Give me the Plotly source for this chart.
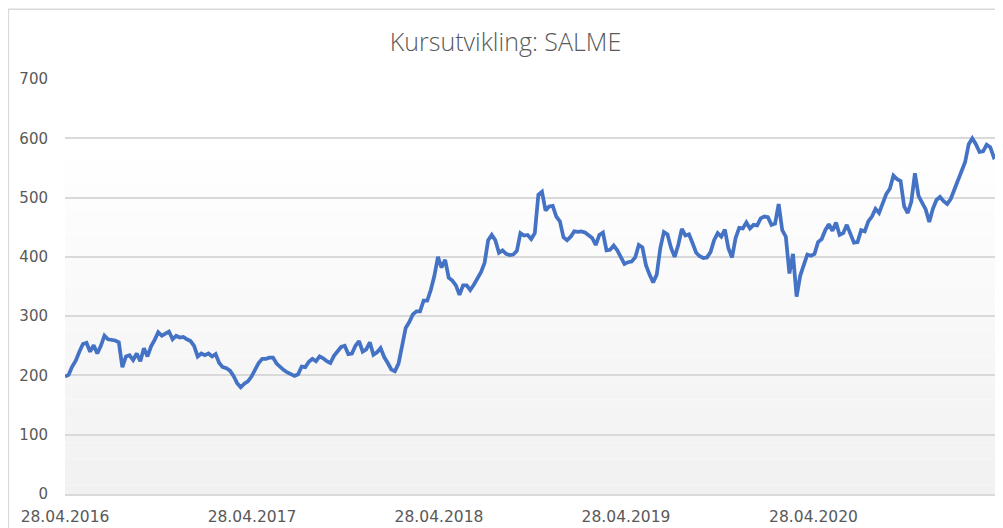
import plotly.graph_objects as go
import pandas as pd

title_text = "Kursutvikling: SALME"
start_date = "2016-04-28"

# Weekly closing prices
prices = [
    198, 201, 215, 225, 240, 253, 255, 240, 251, 237,
    250, 267, 261, 260, 259, 256, 214, 232, 234, 226,
    237, 224, 246, 232, 249, 260, 273, 267, 271, 274,
    261, 267, 264, 265, 261, 258, 250, 232, 237, 234,
    237, 232, 236, 221, 214, 212, 208, 199, 187, 180,
    186, 190, 198, 211, 221, 228, 228, 230, 230, 220,
    214, 209, 205, 202, 199, 202, 215, 214, 223, 228,
    224, 232, 229, 224, 221, 233, 240, 248, 250, 236,
    237, 250, 258, 240, 244, 256, 235, 239, 246, 231,
    221, 210, 207, 220, 250, 280, 290, 303, 308, 308,
    326, 326, 344, 368, 400, 382, 395, 365, 360, 352,
    336, 352, 352, 344, 353, 363, 374, 390, 428, 437,
    428, 407, 411, 405, 403, 404, 410, 440, 436, 437,
    430, 440, 505, 510, 478, 485, 486, 468, 460, 433,
    428, 434, 443, 442, 443, 441, 437, 432, 420, 437,
    441, 411, 412, 419, 411, 399, 388, 391, 392, 399,
    420, 416, 386, 370, 357, 370, 415, 442, 438, 415,
    400, 420, 447, 436, 438, 423, 407, 401, 398, 399,
    408, 428, 440, 434, 446, 414, 399, 432, 449, 448,
    458, 448, 454, 453, 465, 468, 467, 454, 456, 489,
    445, 434, 372, 405, 333, 368, 388, 404, 402, 405,
    425, 430, 445, 455, 444, 458, 437, 440, 454, 437,
    424, 425, 445, 443, 460, 468, 481, 474, 492, 506,
    515, 537, 531, 528, 485, 474, 493, 541, 503, 490,
    480, 459, 481, 496, 501, 494, 489, 498, 513, 530,
    544, 560, 590, 600, 590, 577, 578, 589, 585, 568,
    572, 590,
]
dates = pd.date_range(start_date, periods=len(prices), freq="7D")

tick_dates = ["2016-04-28", "2017-04-28", "2018-04-28", "2019-04-28", "2020-04-28"]
tick_labels = ["28.04.2016", "28.04.2017", "28.04.2018", "28.04.2019", "28.04.2020"]
y_ticks = [0, 100, 200, 300, 400, 500, 600, 700]

fig = go.Figure()
fig.add_trace(go.Scatter(
    x=dates, y=prices, mode="lines",
    line=dict(color="#4472C4", width=3.75),
    showlegend=False,
))

# Gradient plot-area background (light grey at bottom fading to white near the top)
n_bands = 40
grad_top = 580
for i in range(n_bands):
    y0 = grad_top * i / n_bands
    y1 = grad_top * (i + 1) / n_bands
    t = (i + 0.5) / n_bands
    g = int(round(241 + (255 - 241) * t))
    fig.add_shape(type="rect", xref="paper", yref="y", x0=0, x1=1, y0=y0, y1=y1,
                  fillcolor=f"rgb({g},{g},{g})", line=dict(width=0), layer="below")

# Chart-area border
fig.add_shape(type="rect", xref="paper", yref="paper",
              x0=-0.0605, x1=1.03, y0=-0.2, y1=1.168,
              line=dict(color="#d9d9d9", width=1.5), fillcolor="rgba(0,0,0,0)",
              layer="below")

fig.update_layout(
    width=995, height=520,
    margin=dict(l=57, r=2, t=71, b=31),
    paper_bgcolor="white",
    plot_bgcolor="rgba(0,0,0,0)",
    title=dict(text=title_text, x=0.5, xanchor="center", y=0.935, yanchor="middle",
               font=dict(family="Open Sans", size=25, color="#595959", weight=300)),
    font=dict(family="DejaVu Sans", size=14, color="#595959"),
    xaxis=dict(
        type="date",
        range=["2016-04-28", "2021-04-29"],
        tickvals=tick_dates, ticktext=tick_labels,
        showgrid=False, showline=True, linecolor="#d9d9d9", linewidth=1.5,
        ticks="", zeroline=False,
        ticklabelstandoff=8,
        tickfont=dict(family="DejaVu Sans", size=15.5, color="#595959"),
    ),
    yaxis=dict(
        range=[0, 700], tickvals=y_ticks,
        showgrid=True, gridcolor="#d9d9d9", gridwidth=1.5,
        zeroline=False, showline=False, ticks="",
        ticklabelstandoff=16,
        tickfont=dict(family="DejaVu Sans", size=15, color="#595959"),
    ),
)

fig.write_html("out.html")
